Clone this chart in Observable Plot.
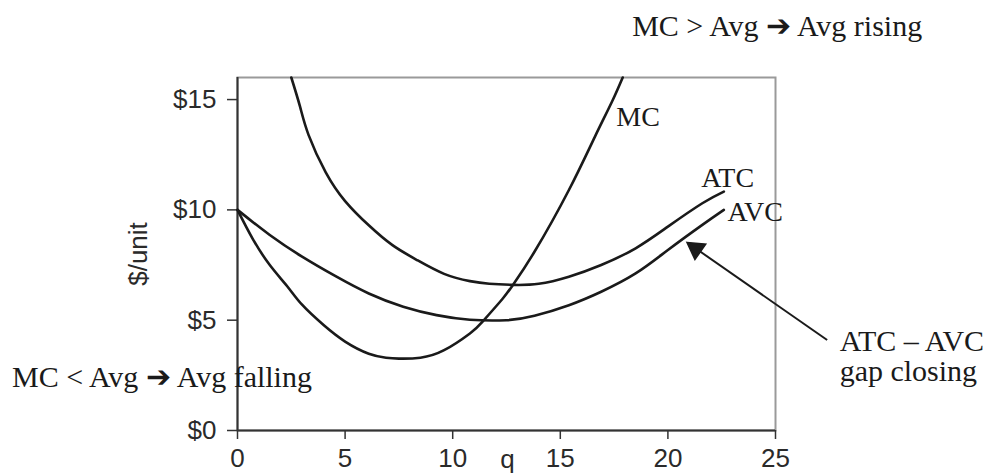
<!DOCTYPE html>
<html>
<head>
<meta charset="utf-8">
<script src="https://cdn.jsdelivr.net/npm/d3@7"></script>
<script src="https://cdn.jsdelivr.net/npm/@observablehq/plot@0.6"></script>
<style>
  html, body { margin: 0; padding: 0; background: #fff; }
  #chart svg { display: block; }
</style>
</head>
<body>
<div id="chart"></div>
<script>
// ---- data ----
const xTicks = [0, 5, 10, 15, 20, 25];
const yTicks = [0, 5, 10, 15];

const qMC = [0, 0.7, 1.5, 2.3, 3, 4, 5, 6.1, 6.9, 7.5, 8.5, 9.6, 10.8, 11.4, 12.3, 12.8, 13.8, 15.4, 16.6, 17.4, 17.9];
const MC  = [10, 8.7, 7.5, 6.55, 5.7, 4.78, 4.03, 3.48, 3.3, 3.26, 3.3, 3.64, 4.4, 4.95, 5.95, 6.6, 8.1, 10.9, 13.3, 14.9, 16.0];

const qATC = [2.5, 2.9, 3.3, 4.1, 5, 6.1, 7.2, 8.3, 9.6, 10.8, 11.7, 12.8, 14, 15.4, 16.9, 18.5, 20, 21.6, 22.6];
const ATC  = [16, 14.7, 13.4, 11.7, 10.4, 9.3, 8.4, 7.75, 7.1, 6.77, 6.65, 6.6, 6.65, 6.97, 7.5, 8.26, 9.24, 10.3, 10.83];

const qAVC = [0, 1.5, 3, 4.6, 6.1, 7.7, 9.25, 10.8, 12.5, 13.8, 15.4, 16.9, 18.5, 20, 21.6, 22.6];
const AVC  = [10, 8.86, 7.88, 6.97, 6.21, 5.61, 5.23, 5.02, 5.0, 5.2, 5.68, 6.29, 7.12, 8.18, 9.32, 10.0];

const curveNames = ["MC", "ATC", "AVC"];
const topNote = "MC > Avg \u2794 Avg rising";
const leftNote = "MC < Avg \u2794 Avg falling";
const gapNote = "ATC \u2013 AVC\ngap closing";

// ---- build tables ----
const mcData = qMC.map((q, i) => ({q, v: MC[i]}));
const atcData = qATC.map((q, i) => ({q, v: ATC[i]}));
const avcData = qAVC.map((q, i) => ({q, v: AVC[i]}));

const serif = "'Liberation Serif', 'Times New Roman', serif";
const ink = "#1a1a1a";

const chart = Plot.plot({
  width: 1000,
  height: 475,
  marginLeft: 237,
  marginRight: 225,
  marginTop: 77,
  marginBottom: 45,
  style: {fontFamily: "'Liberation Sans', Arial, sans-serif", fontSize: "26px", color: "#2a2a2a", background: "#fff", overflow: "visible"},
  x: {domain: [0, 25]},
  y: {domain: [0, 16]},
  marks: [
    Plot.frame({stroke: "#9a9a9a", strokeWidth: 2}),
    Plot.axisX({ticks: xTicks, tickSize: 9, tickPadding: 9, label: null, strokeWidth: 1.5, stroke: "#333"}),
    Plot.axisY({ticks: yTicks, tickSize: 10, tickPadding: 11, label: null, tickFormat: d => "$" + d, strokeWidth: 1.5, stroke: "#333"}),
    Plot.ruleX([0], {stroke: "#333", strokeWidth: 2}),
    Plot.ruleY([0], {stroke: "#333", strokeWidth: 2}),
    Plot.line(atcData, {x: "q", y: "v", stroke: ink, strokeWidth: 2.6, curve: "natural"}),
    Plot.line(avcData, {x: "q", y: "v", stroke: ink, strokeWidth: 2.6, curve: "natural"}),
    Plot.line(mcData, {x: "q", y: "v", stroke: ink, strokeWidth: 2.6, curve: "natural"}),
    // curve labels
    Plot.text([curveNames[0]], {x: 17.6, y: 14.23, text: d => d, textAnchor: "start", fontFamily: serif, fontSize: 28, fill: ink}),
    Plot.text([curveNames[1]], {x: 21.55, y: 11.45, text: d => d, textAnchor: "start", fontFamily: serif, fontSize: 28, fill: ink}),
    Plot.text([curveNames[2]], {x: 22.77, y: 9.9, text: d => d, textAnchor: "start", fontFamily: serif, fontSize: 28, fill: ink}),
    // axis titles
    Plot.text(["$/unit"], {x: -4.6, y: 8.0, text: d => d, rotate: -90, fontSize: 26, fill: "#2a2a2a"}),
    Plot.text(["q"], {x: 12.55, y: -1.3, text: d => d, fontSize: 26, fill: "#2a2a2a"}),
    // annotations
    Plot.text([topNote], {x: 18.34, y: 18.3, text: d => d, textAnchor: "start", fontFamily: serif, fontSize: 30, fill: ink}),
    Plot.text([leftNote], {x: -10.48, y: 2.41, text: d => d, textAnchor: "start", fontFamily: serif, fontSize: 30, fill: ink}),
    Plot.text([gapNote], {x: 27.98, y: 3.35, text: d => d, textAnchor: "start", fontFamily: serif, fontSize: 30, lineHeight: 1.0, fill: ink}),
    // pointer arrow
    Plot.link([0], {x1: 27.4, y1: 4.1, x2: 21.4, y2: 8.18, stroke: ink, strokeWidth: 2}),
    Plot.dot([0], {x: 21.3, y: 8.24, symbol: "triangle", r: 7, fill: ink, stroke: ink, rotate: -55})
  ]
});

document.getElementById("chart").append(chart);
</script>
</body>
</html>
